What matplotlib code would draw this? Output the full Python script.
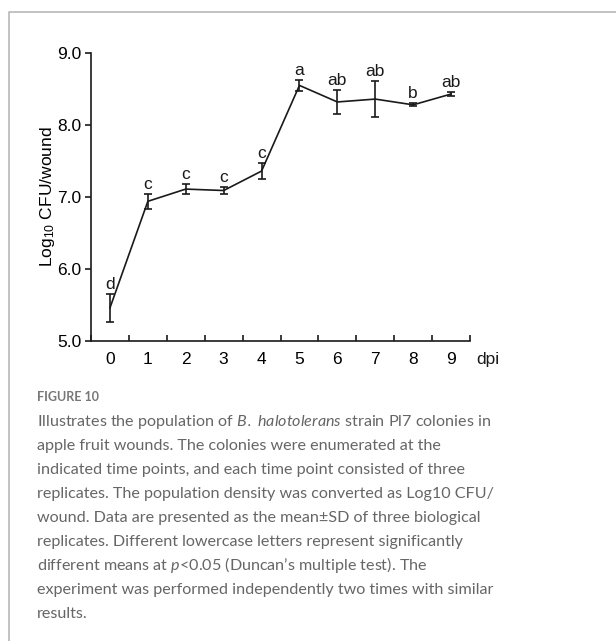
import matplotlib
matplotlib.use('Agg')
import matplotlib.pyplot as plt
from matplotlib.lines import Line2D
import numpy as np

plt.rcParams['font.family'] = 'Liberation Sans'
plt.rcParams['mathtext.fontset'] = 'custom'
plt.rcParams['mathtext.rm'] = 'Liberation Sans'
plt.rcParams['mathtext.it'] = 'Lato:italic'

# data
dpi_days = [0, 1, 2, 3, 4, 5, 6, 7, 8, 9]
log_cfu = [5.46, 6.94, 7.11, 7.09, 7.36, 8.55, 8.32, 8.36, 8.28, 8.43]
sd = [0.19, 0.10, 0.065, 0.045, 0.11, 0.075, 0.17, 0.25, 0.02, 0.025]
letters = ['d', 'c', 'c', 'c', 'c', 'a', 'ab', 'ab', 'b', 'ab']

caption = [
    "Illustrates the population of $\\mathit{B.}$ $\\mathit{halotolerans}$ strain Pl7 colonies in",
    "apple fruit wounds. The colonies were enumerated at the",
    "indicated time points, and each time point consisted of three",
    "replicates. The population density was converted as Log10 CFU/",
    "wound. Data are presented as the mean\u00b1SD of three biological",
    "replicates. Different lowercase letters represent significantly",
    "different means at $\\mathit{p}$<0.05 (Duncan\u2019s multiple test). The",
    "experiment was performed independently two times with similar",
    "results.",
]

W, H = 616, 641
fig = plt.figure(figsize=(W / 100, H / 100), dpi=100)
ax = fig.add_axes([91 / W, 1 - 341 / H, (470 - 91) / W, (341 - 53) / H])

f_size = 12.5
ink = '#1a1a1a'
ax.errorbar(dpi_days, log_cfu, yerr=sd, color=ink, lw=1.2, elinewidth=1.2,
            capsize=2.8, capthick=1.2)
for x, y, s, lab in zip(dpi_days, log_cfu, sd, letters):
    ax.annotate(lab, (x, y + s), xytext=(0, 1.5), textcoords='offset points',
                ha='center', va='bottom', fontsize=f_size, color=ink)

ax.set_xlim(-0.5, 9.5)
ax.set_ylim(5.0, 9.0)
ax.spines['top'].set_visible(False)
ax.spines['right'].set_visible(False)
for s in ['left', 'bottom']:
    ax.spines[s].set_linewidth(1.2)
    ax.spines[s].set_color(ink)

ax.set_yticks([5, 6, 7, 8, 9])
ax.set_yticklabels(['5.0', '6.0', '7.0', '8.0', '9.0'], fontsize=f_size)
ax.tick_params(axis='y', direction='out', length=4, width=1.2, color=ink, pad=3)

ax.set_xticks(dpi_days)
ax.set_xticklabels([str(d) for d in dpi_days], fontsize=f_size)
ax.set_xticks(np.arange(-0.5, 10, 1.0), minor=True)
ax.tick_params(axis='x', which='major', length=0, pad=8)
ax.tick_params(axis='x', which='minor', direction='in', length=4, width=1.2, color=ink)

ax.set_ylabel(r'Log$_{10}$ CFU/wound', fontsize=f_size, labelpad=0)
ax.text(1.047, 1 - 364 / H, 'dpi', transform=ax.get_yaxis_transform().__class__(ax.transAxes, fig.transFigure),
        fontsize=f_size, ha='center', va='baseline', color=ink)

# frame around the figure panel
frame = '#b8b8b8'
fig.add_artist(Line2D([9 / W, 9 / W, 1], [0, 1 - 12 / H, 1 - 12 / H],
                      transform=fig.transFigure, color=frame, lw=1.2))

fig.text(37 / W, 1 - 401 / H, 'FIGURE 10', fontsize=9, fontweight='bold',
         family='Lato', color='#777777', va='baseline')
for i, line in enumerate(caption):
    fig.text(37 / W, 1 - (426 + 24 * i) / H, line, fontsize=11.6,
             family='Lato', color='#666666', va='baseline')

plt.savefig('out.png', dpi=100)
